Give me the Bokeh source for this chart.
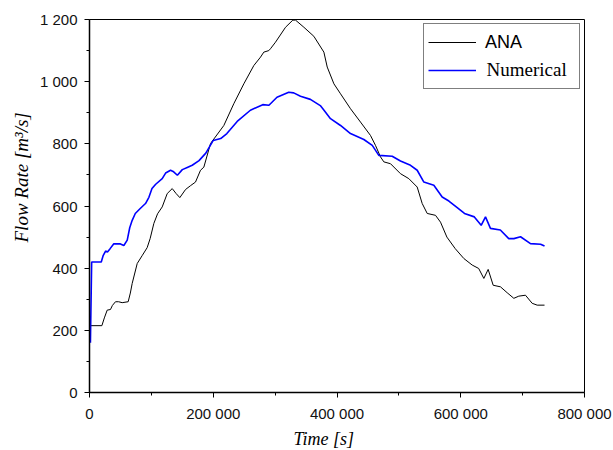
from bokeh.plotting import figure
from bokeh.models import (Range1d, FixedTicker, CustomJSTickFormatter, Legend,
                          LegendItem, Label, Title)
from bokeh.embed import file_html
from bokeh.resources import INLINE

# ---- data ----
t_ana = [1000, 20000, 24000, 28600, 33900, 37000, 42000, 47000, 52800, 62500,
         66000, 69000, 77100, 85000, 93200, 98000, 104000, 110000, 117500, 125600,
         133700, 140000, 146000, 155200, 163000, 171300, 179400, 184800, 195600, 217100,
         233200, 249400, 265600, 276400, 281700, 289800, 292500, 300600, 316800, 328600,
         333000, 346500, 362600, 378800, 384200, 395000, 405700, 421800, 438000, 454100,
         462200, 470300, 475700, 486500, 502600, 516100, 529600, 537700, 545800, 559200,
         567300, 577600, 591000, 605000, 618500, 629000, 637300, 644300, 652400, 664200,
         675000, 685800, 693800, 704600, 715400, 723500, 735400]
q_ana = [215, 215, 240, 265, 267, 280, 292, 292, 289, 292,
         320, 351, 415, 440, 466, 495, 544, 575, 597, 640,
         656, 640, 627, 653, 665, 677, 715, 725, 801, 859,
         929, 993, 1052, 1079, 1095, 1100, 1106, 1127, 1175, 1198,
         1198, 1175, 1146, 1095, 1047, 993, 961, 913, 870, 827,
         795, 758, 742, 736, 704, 688, 661, 608, 576, 570,
         548, 500, 463, 431, 410, 399, 367, 396, 345, 340,
         321, 303, 310, 313, 287, 281, 281]

t_num = [1500, 3500, 19000, 22000, 26000, 29000, 33000, 39000, 50000, 55500,
         61000, 65000, 69000, 74000, 82000, 90500, 96000, 101000, 107000, 117500,
         123000, 131000, 136000, 142000, 150000, 158000, 166000, 177000, 188000, 200000,
         212000, 222000, 238700, 260000, 280000, 290000, 303000, 322000, 330000, 341000,
         357000, 373000, 379000, 389500, 405700, 421800, 443400, 457000, 467600, 489200,
         502600, 518800, 529600, 540400, 556500, 570000, 580800, 594300, 606000, 622000,
         633000, 640000, 648000, 664000, 677600, 685900, 696600, 712700, 729000, 735400]
q_num = [160, 420, 420, 440, 455, 452, 462, 478, 478, 473,
         490, 530, 554, 576, 592, 608, 628, 656, 670, 688,
         706, 715, 710, 699, 717, 724, 731, 746, 770, 811,
         817, 833, 872, 908, 926, 924, 950, 966, 964, 953,
         943, 923, 908, 881, 859, 833, 814, 795, 763, 760,
         745, 731, 715, 677, 667, 629, 616, 595, 576, 565,
         538, 565, 528, 523, 495, 495, 501, 479, 477, 471]

x_ticks = [0, 200000, 400000, 600000, 800000]
x_minor = [100000, 300000, 500000, 700000]
y_ticks = [0, 200, 400, 600, 800, 1000, 1200]
y_minor = [100, 300, 500, 700, 900, 1100]

series_names = ["ANA", "Numerical"]
x_title = "Time [s]"
y_title = "Flow Rate [m\u00b3/s]"

# ---- figure ----
p = figure(width=613, height=450, x_range=Range1d(0, 800000), y_range=Range1d(0, 1200),
           output_backend="svg", toolbar_location=None,
           min_border_left=89, min_border_right=29, min_border_top=19, min_border_bottom=58)
p.title.visible = False
p.background_fill_color = "white"
p.border_fill_color = "white"
p.outline_line_color = "black"
p.outline_line_width = 1
p.xgrid.visible = False
p.ygrid.visible = False

fmt = CustomJSTickFormatter(code=r"""return tick.toFixed(0).replace(/\B(?=(\d{3})+(?!\d))/g, " ");""")
for ax, ticks, minor in ((p.xaxis[0], x_ticks, x_minor), (p.yaxis[0], y_ticks, y_minor)):
    ax.ticker = FixedTicker(ticks=ticks, minor_ticks=minor)
    ax.formatter = fmt
    ax.axis_line_width = 1.5
    ax.axis_line_color = "black"
    ax.major_tick_out = 5
    ax.major_tick_in = 0
    ax.minor_tick_out = 3
    ax.minor_tick_in = 0
    ax.major_tick_line_color = "black"
    ax.minor_tick_line_color = "black"
    ax.major_label_text_font = "Liberation Sans"
    ax.major_label_text_font_size = "15px"
    ax.major_label_text_color = "#111111"
p.xaxis.major_label_standoff = 7
p.yaxis.major_label_standoff = 7

r_ana = p.line(t_ana, q_ana, line_color="black", line_width=1)
r_num = p.line(t_num, q_num, line_color="#0000ff", line_width=1.6)

legend = Legend(items=[LegendItem(label=series_names[0], renderers=[r_ana]),
                       LegendItem(label=" ", renderers=[r_num])],
                location="top_right", margin=4, padding=4,
                glyph_width=48, glyph_height=28, spacing=0,
                label_standoff=9, label_width=90,
                label_text_font="Liberation Sans", label_text_font_size="18px",
                label_text_color="black",
                border_line_color="black", border_line_width=1,
                background_fill_alpha=0.0)
p.add_layout(legend)

p.add_layout(Label(x=397, y=323, x_units="screen", y_units="screen",
                   text=series_names[1], text_font="Liberation Serif",
                   text_font_size="19px", text_baseline="middle", text_color="black"))

xt = Title(text=x_title, align="left", offset=204, standoff=4,
           text_font="Liberation Serif", text_font_style="italic",
           text_font_size="18px", text_color="black")
p.add_layout(xt, "below")
yt = Title(text=y_title, align="left", offset=150, standoff=10,
           text_font="Liberation Serif", text_font_style="italic",
           text_font_size="19px", text_color="black")
p.add_layout(yt, "left")

open("out.html", "w").write(file_html(p, INLINE))
